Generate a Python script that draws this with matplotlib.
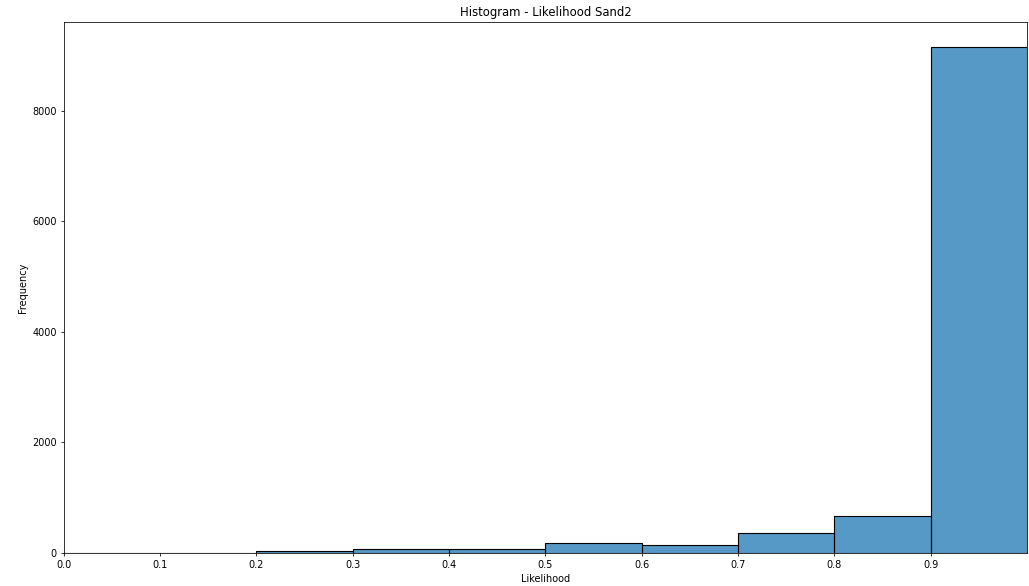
import numpy as np
import matplotlib
matplotlib.use("Agg")
import matplotlib.pyplot as plt

# histogram bins of the likelihood values and their counts
bin_edges = [0.0, 0.1, 0.2, 0.3, 0.4, 0.5, 0.6, 0.7, 0.8, 0.9, 1.0]
counts = [4, 4, 30, 70, 70, 190, 140, 365, 670, 9150]
xticks = [0.0, 0.1, 0.2, 0.3, 0.4, 0.5, 0.6, 0.7, 0.8, 0.9]

s = 0.7  # everything drawn at a reduced scale
plt.rcParams.update({
    "font.size": 10 * s,
    "axes.titlesize": 12 * s,
    "axes.labelsize": 10 * s,
    "xtick.labelsize": 10 * s,
    "ytick.labelsize": 10 * s,
    "axes.linewidth": 0.8 * s,
    "xtick.major.size": 3.5 * s,
    "ytick.major.size": 3.5 * s,
    "xtick.major.width": 0.8 * s,
    "ytick.major.width": 0.8 * s,
    "xtick.major.pad": 3.5 * s,
    "ytick.major.pad": 3.5 * s,
    "axes.labelpad": 4 * s,
    "axes.titlepad": 6 * s,
})

fig, ax = plt.subplots(figsize=(10.29, 5.86), dpi=100)
ax.hist(bin_edges[:-1], bins=bin_edges, weights=counts,
        color="#1f77b4", alpha=0.75, edgecolor="none")
# opaque outlines like seaborn's histplot
ax.hist(bin_edges[:-1], bins=bin_edges, weights=counts,
        histtype="bar", fill=False, edgecolor="black", linewidth=0.8)
ax.set_xlim(0, 1.0)
ax.set_xticks(xticks)
ax.set_title("Histogram - Likelihood Sand2")
ax.set_xlabel("Likelihood")
ax.set_ylabel("Frequency")
fig.subplots_adjust(left=0.062, right=0.998, top=0.9625, bottom=0.0563)
fig.savefig("out.png")
